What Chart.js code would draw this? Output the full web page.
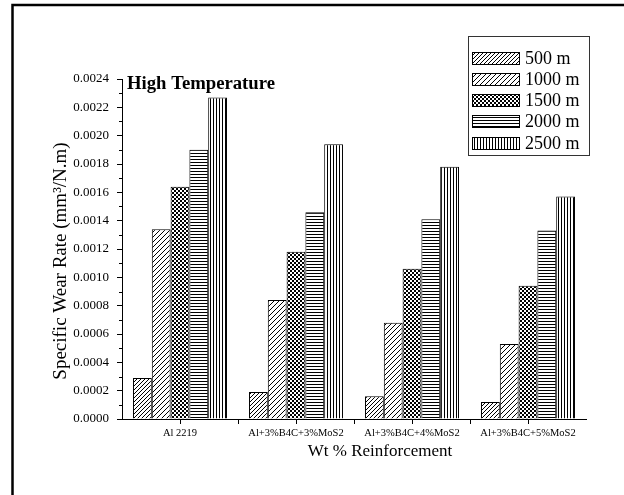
<!DOCTYPE html>
<html>
<head>
<meta charset="utf-8">
<script src="https://cdn.jsdelivr.net/npm/chart.js@4.4.1/dist/chart.umd.min.js"></script>
<style>
  html, body { margin: 0; padding: 0; background: #fff; }
  #wrap { width: 624px; height: 495px; position: relative; }
</style>
</head>
<body>
<div id="wrap"><canvas id="chart" width="624" height="495"></canvas></div>
<script>
// Datos
const categories = ['Al 2219', 'Al+3%B4C+3%MoS2', 'Al+3%B4C+4%MoS2', 'Al+3%B4C+5%MoS2'];
const seriesNames = ['500 m', '1000 m', '1500 m', '2000 m', '2500 m'];
const wear500 = [0.00029, 0.00019, 0.00016, 0.00012];
const wear1000 = [0.00134, 0.00084, 0.00068, 0.00053];
const wear1500 = [0.00164, 0.00118, 0.00106, 0.00094];
const wear2000 = [0.00190, 0.00146, 0.00141, 0.00133];
const wear2500 = [0.00227, 0.00194, 0.00178, 0.00157];
const yMin = 0;
const yMax = 0.0024;
const yStep = 0.0002;

const SERIF = "'Liberation Serif', 'Times New Roman', serif";

const canvas = document.getElementById('chart');
const mainCtx = canvas.getContext('2d');

/**
 * Crea un patrón de relleno a partir de una baldosa pequeña.
 */
function makePattern(size, draw) {
  const tile = document.createElement('canvas');
  tile.width = size;
  tile.height = size;
  const g = tile.getContext('2d');
  g.fillStyle = '#fff';
  g.fillRect(0, 0, size, size);
  g.strokeStyle = '#000';
  g.fillStyle = '#000';
  g.lineWidth = 1;
  draw(g, size);
  return mainCtx.createPattern(tile, 'repeat');
}

function diagonal(g, s) {
  g.beginPath();
  g.moveTo(-1, s + 1); g.lineTo(s + 1, -1);
  g.moveTo(-1, 1); g.lineTo(1, -1);
  g.moveTo(s - 1, s + 1); g.lineTo(s + 1, s - 1);
  g.stroke();
}

const patterns = [
  makePattern(4, diagonal),
  makePattern(5, diagonal),
  makePattern(4, (g) => { g.fillRect(0, 0, 2, 2); g.fillRect(2, 2, 2, 2); }),
  makePattern(3, (g) => { g.fillRect(0, 0, 3, 1); }),
  makePattern(3, (g) => { g.fillRect(0, 0, 1, 3); }),
];

const seriesValues = [wear500, wear1000, wear1500, wear2000, wear2500];

const datasets = seriesValues.map((values, i) => ({
  label: seriesNames[i],
  data: values,
  backgroundColor: patterns[i],
  borderColor: '#000',
  borderWidth: 1,
  borderSkipped: 'bottom',
  categoryPercentage: 0.81,
  barPercentage: 1.0,
}));

// Títulos, leyenda, marcas menores y marco exterior
const decor = {
  id: 'decor',
  beforeDraw(chart) {
    const ctx = chart.ctx;
    ctx.save();
    ctx.fillStyle = '#fff';
    ctx.fillRect(0, 0, chart.width, chart.height);
    ctx.restore();
  },
  afterDraw(chart) {
    const ctx = chart.ctx;
    const xs = chart.scales.x;
    const ys = chart.scales.y;
    const area = chart.chartArea;
    ctx.save();
    ctx.strokeStyle = '#000';
    ctx.lineWidth = 1;

    // marcas menores del eje Y
    ctx.beginPath();
    for (let v = yMin + yStep / 2; v < yMax; v += yStep) {
      const py = Math.round(ys.getPixelForValue(v)) + 0.5;
      ctx.moveTo(area.left - 3, py);
      ctx.lineTo(area.left, py);
    }
    // marcas entre categorías en el eje X
    const half = (xs.getPixelForValue(1) - xs.getPixelForValue(0)) / 2;
    for (let i = 0; i < categories.length - 1; i++) {
      const px = Math.round(xs.getPixelForValue(i) + half) + 0.5;
      ctx.moveTo(px, area.bottom);
      ctx.lineTo(px, area.bottom + 5);
    }
    ctx.stroke();

    // título interior
    ctx.fillStyle = '#000';
    ctx.font = 'bold 18.7px ' + SERIF;
    ctx.textAlign = 'left';
    ctx.textBaseline = 'middle';
    ctx.fillText('High Temperature', 127, 84);

    // títulos de ejes
    ctx.font = '17px ' + SERIF;
    ctx.textAlign = 'center';
    ctx.fillText('Wt % Reinforcement', 380, 452);
    ctx.save();
    ctx.translate(61, 261);
    ctx.rotate(-Math.PI / 2);
    ctx.font = '19px ' + SERIF;
    ctx.fillText('Specific Wear Rate (mm³/N.m)', 0, 0);
    ctx.restore();

    // leyenda
    ctx.strokeStyle = '#333';
    ctx.strokeRect(468.5, 36.5, 121, 119);
    ctx.strokeStyle = '#000';
    ctx.font = '18px ' + SERIF;
    ctx.textAlign = 'left';
    const rowY = [58.5, 79.5, 100.5, 121.5, 143];
    seriesNames.forEach((name, i) => {
      const top = Math.round(rowY[i] - 6.5);
      ctx.fillStyle = patterns[i];
      ctx.fillRect(472, top, 48, 13);
      ctx.strokeRect(472.5, top + 0.5, 47, 12);
      ctx.fillStyle = '#000';
      ctx.fillText(name, 525, rowY[i] + 1);
    });

    // marco exterior de la página
    ctx.lineWidth = 2.5;
    ctx.strokeRect(12.5, 5, 700, 600);
    ctx.restore();
  },
};

new Chart(canvas, {
  type: 'bar',
  data: { labels: categories, datasets },
  options: {
    responsive: false,
    devicePixelRatio: 1,
    animation: false,
    layout: { padding: { top: 79, right: 38, bottom: 0, left: 0 } },
    scales: {
      x: {
        offset: true,
        afterFit: (scale) => { scale.height = 76; },
        grid: {
          offset: false,
          drawOnChartArea: false,
          tickLength: 5,
          color: '#000',
        },
        border: { color: '#000', width: 1 },
        ticks: {
          autoSkip: false,
          maxRotation: 0,
          padding: 3,
          color: '#000',
          font: { family: SERIF, size: 10.5 },
        },
      },
      y: {
        min: yMin,
        max: yMax,
        afterFit: (scale) => { scale.width = 122; },
        grid: {
          drawOnChartArea: false,
          tickLength: 5,
          color: '#000',
        },
        border: { color: '#000', width: 1 },
        ticks: {
          stepSize: yStep,
          padding: 8,
          color: '#000',
          font: { family: SERIF, size: 13 },
          callback: (v) => v.toFixed(4),
        },
      },
    },
    plugins: {
      legend: { display: false },
      tooltip: { enabled: false },
      title: { display: false },
    },
  },
  plugins: [decor],
});
</script>
</body>
</html>
